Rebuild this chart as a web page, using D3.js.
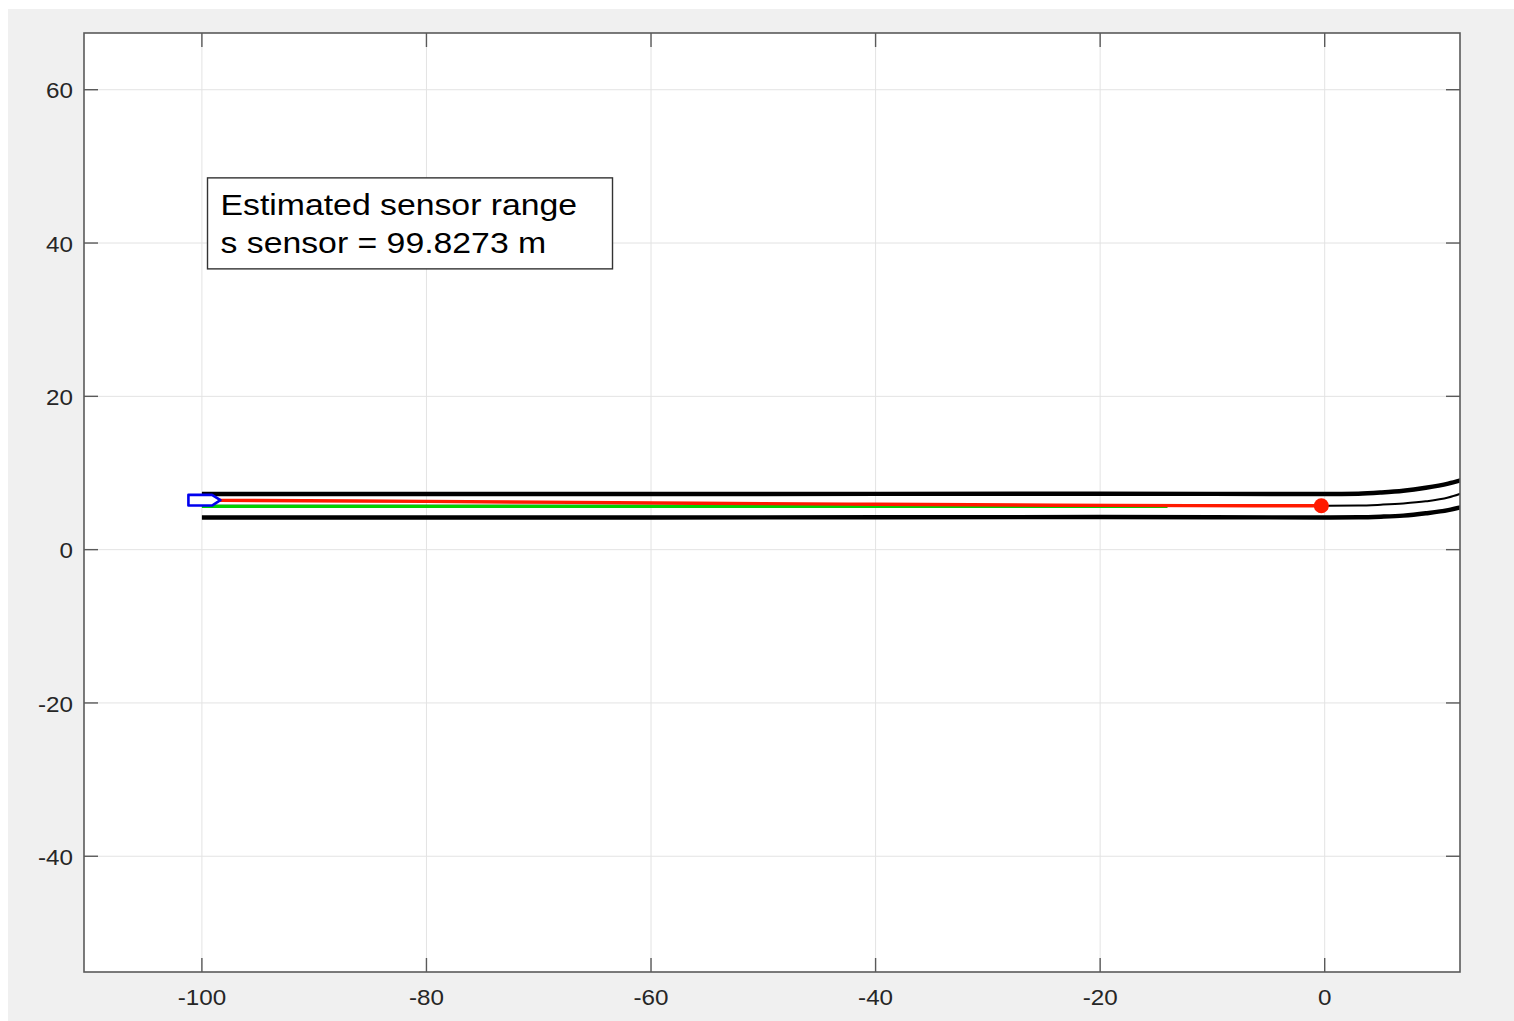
<!DOCTYPE html>
<html>
<head>
<meta charset="utf-8">
<script src="https://cdn.jsdelivr.net/npm/d3@7"></script>
<style>
  html, body { margin: 0; padding: 0; background: #ffffff; }
  svg { display: block; }
</style>
</head>
<body>
<svg id="chart" width="1514" height="1021"></svg>
<script>
// ---- data ----
const xTicks = [-100, -80, -60, -40, -20, 0];
const yTicks = [-40, -20, 0, 20, 40, 60];

const roadX      = [-100, -60, -20, 0, 3, 5, 7, 9, 11, 12.5];
const roadUpper  = [7.25, 7.25, 7.3, 7.25, 7.3, 7.45, 7.68, 8.08, 8.62, 9.2];
const roadCenter = [5.72, 5.72, 5.74, 5.72, 5.75, 5.86, 6.02, 6.3, 6.8, 7.5];
const roadLower  = [4.2, 4.2, 4.25, 4.2, 4.22, 4.3, 4.44, 4.74, 5.15, 5.65];

const refX = [-100, -60, -14];
const refY = [5.64, 5.64, 5.64];

const predX = [-98.4, -80, -56, -40, -24, -12, -0.3];
const predY = [6.43, 6.3, 6.05, 5.92, 5.8, 5.74, 5.72];

const targetPoint = [-0.3, 5.72];

const vehicleX = [-101.2, -99.1, -98.35, -99.1, -101.2];
const vehicleY = [7.15, 7.15, 6.45, 5.75, 5.75];

const annotLines = ["Estimated sensor range", "s sensor = 99.8273 m"];
const annotPos = [-99.5, 48.5]; // top-left corner in data units

// ---- layout ----
(function () {
const svg = d3.select("#chart");
const W = 1514, H = 1021;
const mLeft = 84, mRight = 1460, mTop = 33, mBottom = 972;

svg.append("rect").attr("x", 8).attr("y", 9).attr("width", W - 8).attr("height", H - 9)
  .attr("fill", "#f0f0f0");

const x = d3.scaleLinear().domain([-110.5, 12.05]).range([mLeft, mRight]);
const y = d3.scaleLinear().domain([-55.1, 67.4]).range([mBottom, mTop]);

svg.append("rect").attr("x", mLeft).attr("y", mTop)
  .attr("width", mRight - mLeft).attr("height", mBottom - mTop).attr("fill", "#ffffff");

// grid
const grid = svg.append("g");
grid.selectAll(".gx").data(xTicks).enter().append("line")
  .attr("x1", d => x(d)).attr("x2", d => x(d)).attr("y1", mTop).attr("y2", mBottom)
  .attr("stroke", "#e3e3e3").attr("stroke-width", 1);
grid.selectAll(".gy").data(yTicks).enter().append("line")
  .attr("y1", d => y(d)).attr("y2", d => y(d)).attr("x1", mLeft).attr("x2", mRight)
  .attr("stroke", "#e3e3e3").attr("stroke-width", 1);

// clip
svg.append("clipPath").attr("id", "clip").append("rect")
  .attr("x", mLeft).attr("y", mTop).attr("width", mRight - mLeft).attr("height", mBottom - mTop);

const plot = svg.append("g").attr("clip-path", "url(#clip)");

const line = d3.line().x(d => x(d[0])).y(d => y(d[1])).curve(d3.curveMonotoneX);

plot.append("path").datum(d3.zip(roadX, roadCenter)).attr("d", line)
  .attr("fill", "none").attr("stroke", "#000").attr("stroke-width", 2);
plot.append("path").datum(d3.zip(refX, refY)).attr("d", line)
  .attr("fill", "none").attr("stroke", "#00d000").attr("stroke-width", 3.2);
plot.append("path").datum(d3.zip(predX, predY)).attr("d", line)
  .attr("fill", "none").attr("stroke", "#ff1a00").attr("stroke-width", 3.4);
plot.append("path").datum(d3.zip(roadX, roadUpper)).attr("d", line)
  .attr("fill", "none").attr("stroke", "#000").attr("stroke-width", 4.4);
plot.append("path").datum(d3.zip(roadX, roadLower)).attr("d", line)
  .attr("fill", "none").attr("stroke", "#000").attr("stroke-width", 4.4);

plot.append("circle").attr("cx", x(targetPoint[0])).attr("cy", y(targetPoint[1]))
  .attr("r", 7.5).attr("fill", "#ff1a00");

plot.append("polygon")
  .attr("points", d3.zip(vehicleX, vehicleY).map(d => x(d[0]) + "," + y(d[1])).join(" "))
  .attr("fill", "#ffffff").attr("stroke", "#0000ee").attr("stroke-width", 2.6)
  .attr("stroke-linejoin", "round");

// axes frame
const axisColor = "#5a5a5a";
svg.append("rect").attr("x", mLeft).attr("y", mTop)
  .attr("width", mRight - mLeft).attr("height", mBottom - mTop)
  .attr("fill", "none").attr("stroke", axisColor).attr("stroke-width", 1.6);

const tickLen = 14;
const ticks = svg.append("g").attr("stroke", axisColor).attr("stroke-width", 1.4);
xTicks.forEach(t => {
  ticks.append("line").attr("x1", x(t)).attr("x2", x(t)).attr("y1", mBottom).attr("y2", mBottom - tickLen);
  ticks.append("line").attr("x1", x(t)).attr("x2", x(t)).attr("y1", mTop).attr("y2", mTop + tickLen);
});
yTicks.forEach(t => {
  ticks.append("line").attr("y1", y(t)).attr("y2", y(t)).attr("x1", mLeft).attr("x2", mLeft + tickLen);
  ticks.append("line").attr("y1", y(t)).attr("y2", y(t)).attr("x1", mRight).attr("x2", mRight - tickLen);
});

const labelFont = "'Liberation Sans', Arial, Helvetica, sans-serif";
const tickSX = 1.1;
svg.append("g").selectAll("text").data(xTicks).enter().append("text")
  .attr("transform", d => `translate(${x(d)},${mBottom + 25}) scale(${tickSX},1)`)
  .attr("dy", "0.35em").attr("text-anchor", "middle")
  .attr("font-family", labelFont).attr("font-size", 22).attr("fill", "#262626")
  .text(d => d);
svg.append("g").selectAll("text").data(yTicks).enter().append("text")
  .attr("transform", d => `translate(${mLeft - 11},${y(d) + 1}) scale(${tickSX},1)`)
  .attr("dy", "0.35em").attr("text-anchor", "end")
  .attr("font-family", labelFont).attr("font-size", 22).attr("fill", "#262626")
  .text(d => d);

// annotation box
const bx = x(annotPos[0]), by = y(annotPos[1]);
svg.append("rect").attr("x", bx).attr("y", by).attr("width", 405).attr("height", 91)
  .attr("fill", "#ffffff").attr("stroke", "#333").attr("stroke-width", 1.4);
annotLines.forEach((s, i) => {
  svg.append("text")
    .attr("transform", `translate(${bx + 13},${by + 37 + i * 38}) scale(1.165,1)`)
    .attr("font-family", labelFont).attr("font-size", 29).attr("fill", "#000")
    .text(s);
});
})();
</script>
</body>
</html>
